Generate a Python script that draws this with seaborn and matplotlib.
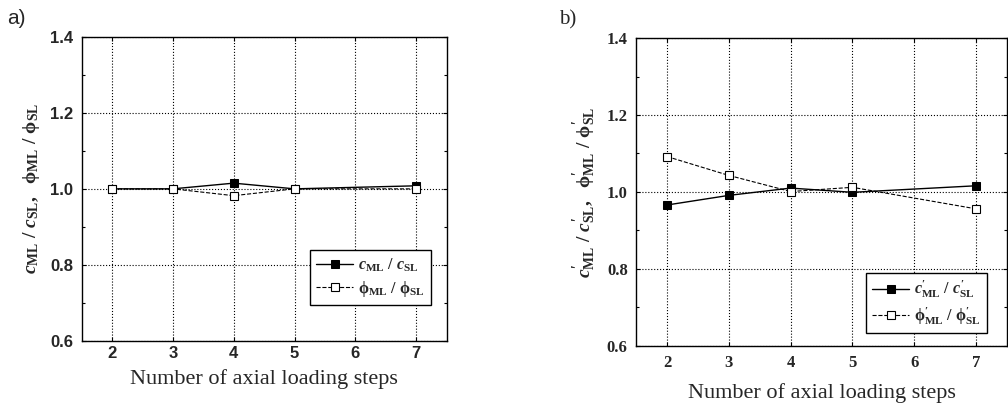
import numpy as np
import pandas as pd
import seaborn as sns
import matplotlib.pyplot as plt
from matplotlib.ticker import MultipleLocator

# Data
steps = [2, 3, 4, 5, 7]
c_ratio_a = [1.000, 1.000, 1.015, 1.000, 1.008]
phi_ratio_a = [1.000, 1.000, 0.982, 1.000, 1.000]
c_ratio_b = [0.966, 0.991, 1.010, 0.999, 1.016]
phi_ratio_b = [1.092, 1.043, 1.001, 1.012, 0.956]

xticks = [2, 3, 4, 5, 6, 7]
yticks = [0.6, 0.8, 1.0, 1.2, 1.4]
xlabel = 'Number of axial loading steps'

sns.set_style('ticks')
plt.rcParams['font.family'] = ['Liberation Serif', 'DejaVu Serif']
plt.rcParams['mathtext.fontset'] = 'custom'
plt.rcParams['mathtext.rm'] = 'Liberation Serif:bold'
plt.rcParams['mathtext.it'] = 'Liberation Serif:bold:italic'
plt.rcParams['mathtext.bf'] = 'Liberation Serif:bold'

fig = plt.figure(figsize=(10.08, 4.03), dpi=100)
ax_a = fig.add_axes([0.081, 0.1546, 0.362, 0.7536])
ax_b = fig.add_axes([0.631, 0.142, 0.368, 0.7635])

labels_a = [r'$c_{\rm ML}\ /\ c_{\rm SL}$', r'${\rm \phi}_{\rm ML}\ /\ {\rm \phi}_{\rm SL}$']
labels_b = [r"$c^{\prime}_{\rm ML}\ /\ c^{\prime}_{\rm SL}$",
            r"${\rm \phi}^{\prime}_{\rm ML}\ /\ {\rm \phi}^{\prime}_{\rm SL}$"]
ylab_a = r'$c_{\rm ML}\ /\ c_{\rm SL},\ \ {\rm \phi}_{\rm ML}\ /\ {\rm \phi}_{\rm SL}$'
ylab_b = (r"$c^{\prime}_{\rm ML}\ /\ c^{\prime}_{\rm SL},\ \ "
          r"{\rm \phi}^{\prime}_{\rm ML}\ /\ {\rm \phi}^{\prime}_{\rm SL}$")


def draw(ax, c_vals, phi_vals, labels, ylab, tick_family, legend_box, xpad, xlpad):
    df = pd.DataFrame({'steps': steps, 'c': c_vals, 'phi': phi_vals})
    sns.lineplot(data=df, x='steps', y='c', ax=ax, color='black', lw=1.0,
                 marker='s', markersize=6, markerfacecolor='black',
                 markeredgecolor='black', label=labels[0], zorder=3)
    sns.lineplot(data=df, x='steps', y='phi', ax=ax, color='black', lw=0.8,
                 linestyle='--', dashes=(3, 2), marker='s', markersize=6,
                 markerfacecolor='white', markeredgecolor='black',
                 markeredgewidth=0.8, label=labels[1], zorder=3)
    ax.set_xlim(1.5, 7.5)
    ax.set_ylim(0.6, 1.4)
    ax.set_xticks(xticks)
    ax.set_yticks(yticks)
    ax.yaxis.set_minor_locator(MultipleLocator(0.1))
    ax.set_xticklabels([str(t) for t in xticks], family=tick_family,
                       fontweight='bold', fontsize=12)
    ax.set_yticklabels(['%.1f' % t for t in yticks], family=tick_family,
                       fontweight='bold', fontsize=12)
    ax.tick_params(which='both', direction='in', top=True, right=True,
                   color='black', width=0.8)
    ax.tick_params(which='major', length=3)
    ax.tick_params(axis='y', which='major', pad=6)
    ax.tick_params(axis='x', which='major', pad=xpad)
    ax.tick_params(which='minor', length=2)
    ax.grid(True, which='major', color='black', linestyle=':', lw=0.8)
    for s in ax.spines.values():
        s.set_color('black')
        s.set_linewidth(1.0)
    ax.set_xlabel(xlabel, fontsize=16, labelpad=xlpad)
    ax.set_ylabel(ylab, fontsize=14, labelpad=6)
    leg = ax.legend(loc='lower right', bbox_to_anchor=legend_box,
                    bbox_transform=fig.transFigure, fancybox=False,
                    framealpha=1, edgecolor='black', fontsize=11.5,
                    handlelength=2.3, borderpad=0.4, labelspacing=0.3,
                    handletextpad=0.3, borderaxespad=0)
    leg.get_frame().set_linewidth(1.0)


draw(ax_a, c_ratio_a, phi_ratio_a, labels_a, ylab_a, 'Liberation Sans',
     (431 / 1008, 1 - 305 / 403), 4, 6)
draw(ax_b, c_ratio_b, phi_ratio_b, labels_b, ylab_b, 'Liberation Serif',
     (987 / 1008, 1 - 333 / 403), 7, 8)

fig.text(7 / 1008, 1 - 18 / 403, 'a)', fontsize=15, va='center', ha='left',
         family='Liberation Sans')
fig.text(559 / 1008, 1 - 20 / 403, 'b)', fontsize=15, va='center', ha='left')

fig.savefig('out.png', dpi=100)
